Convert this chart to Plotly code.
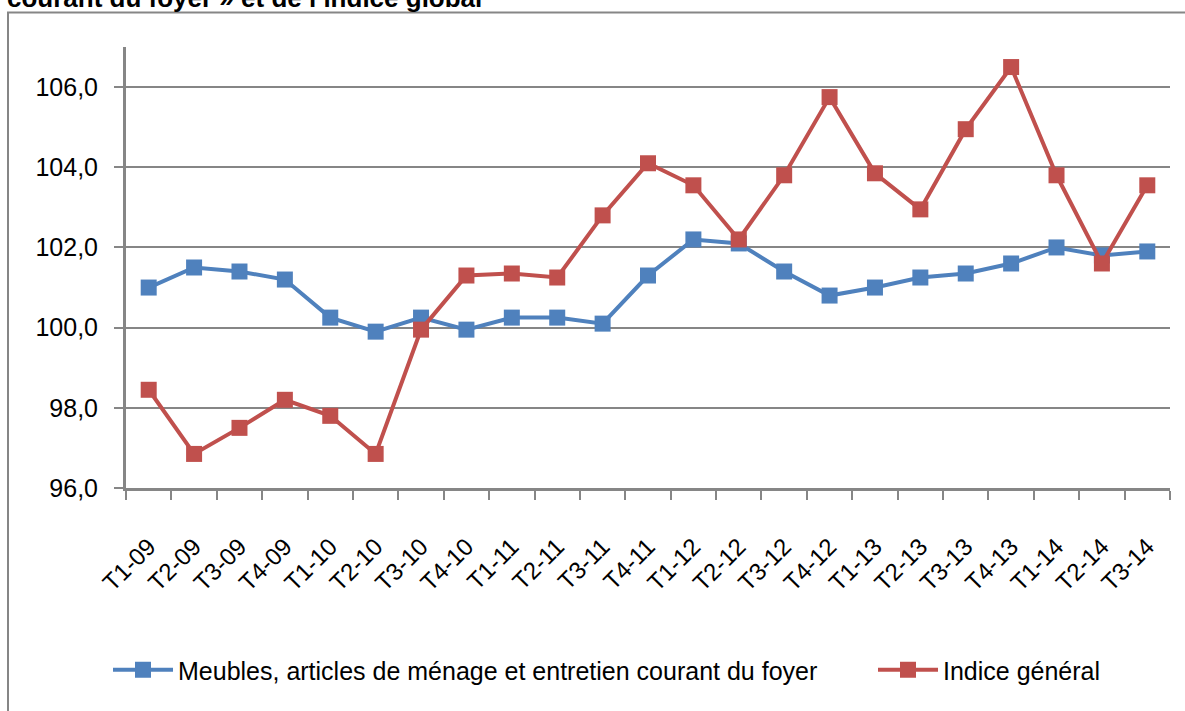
import plotly.graph_objects as go

categories = ["T1-09", "T2-09", "T3-09", "T4-09", "T1-10", "T2-10", "T3-10", "T4-10",
              "T1-11", "T2-11", "T3-11", "T4-11", "T1-12", "T2-12", "T3-12", "T4-12",
              "T1-13", "T2-13", "T3-13", "T4-13", "T1-14", "T2-14", "T3-14"]

meubles = [101.0, 101.5, 101.4, 101.2, 100.25, 99.9, 100.25, 99.95,
           100.25, 100.25, 100.1, 101.3, 102.2, 102.1, 101.4, 100.8,
           101.0, 101.25, 101.35, 101.6, 102.0, 101.8, 101.9]

indice_general = [98.45, 96.85, 97.5, 98.2, 97.8, 96.85, 99.95, 101.3,
                  101.35, 101.25, 102.8, 104.1, 103.55, 102.2, 103.8, 105.75,
                  103.85, 102.95, 104.95, 106.5, 103.8, 101.6, 103.55]

series_names = ["Meubles, articles de ménage et entretien courant du foyer", "Indice général"]
title_text = "courant du foyer » et de l’indice global"

BLUE = "#4F81BD"
RED = "#C0504D"
GREY = "#868686"
FONT = "Liberation Sans, Arial, sans-serif"

fig = go.Figure()
fig.add_trace(go.Scatter(x=categories, y=meubles, name=series_names[0], mode="lines+markers",
                         line=dict(color=BLUE, width=4), legend="legend",
                         marker=dict(symbol="square", size=16, color=BLUE)))
fig.add_trace(go.Scatter(x=categories, y=indice_general, name=series_names[1], mode="lines+markers",
                         line=dict(color=RED, width=4), legend="legend2",
                         marker=dict(symbol="square", size=16, color=RED)))

W, H = 1185, 711
L, R, T, B = 126, 15, 47, 223
pw = W - L - R
ph = H - T - B

def px_x(p):
    return (p - L) / pw

def px_y(p):
    return (H - B - p) / ph

legend_common = dict(orientation="h", xanchor="left", y=px_y(670), yanchor="middle",
                     font=dict(family=FONT, size=25, color="black"),
                     itemwidth=60, bgcolor="rgba(0,0,0,0)")

fig.update_layout(
    width=W, height=H,
    margin=dict(l=L, r=R, t=T, b=B, autoexpand=False),
    paper_bgcolor="white", plot_bgcolor="white",
    separators=", ",
    font=dict(family=FONT, color="black"),
    showlegend=True,
    legend=dict(x=px_x(108), **legend_common),
    legend2=dict(x=px_x(873), **legend_common),
    xaxis=dict(type="category", showgrid=False, showline=True, linecolor=GREY, linewidth=3,
               ticks="outside", tickson="boundaries", ticklen=9, tickwidth=2, tickcolor=GREY,
               tickangle=-45, tickfont=dict(family=FONT, size=24, color="black"),
               ticklabelstandoff=32, range=[-0.5, len(categories) - 0.5], fixedrange=True),
    yaxis=dict(range=[96, 107], tick0=96, dtick=2, tickformat=".1f",
               showgrid=True, gridcolor=GREY, gridwidth=2, zeroline=False,
               showline=True, linecolor=GREY, linewidth=3,
               ticks="outside", ticklen=9, tickwidth=2, tickcolor=GREY,
               tickfont=dict(family=FONT, size=25, color="black"), ticklabelstandoff=11,
               fixedrange=True),
    shapes=[dict(type="rect", xref="paper", yref="paper",
                 x0=px_x(8), x1=px_x(1200), y0=px_y(730), y1=px_y(12.5),
                 line=dict(color=GREY, width=2), fillcolor="rgba(0,0,0,0)", layer="below")],
    annotations=[dict(text=title_text, xref="paper", yref="paper", x=px_x(5), xanchor="left",
                      y=px_y(15), yanchor="bottom", showarrow=False,
                      font=dict(family=FONT, size=26, color="black", weight="bold"))],
)

fig.write_html("out.html", config={"displayModeBar": False},
               post_script="document.body.style.margin='0px';")
